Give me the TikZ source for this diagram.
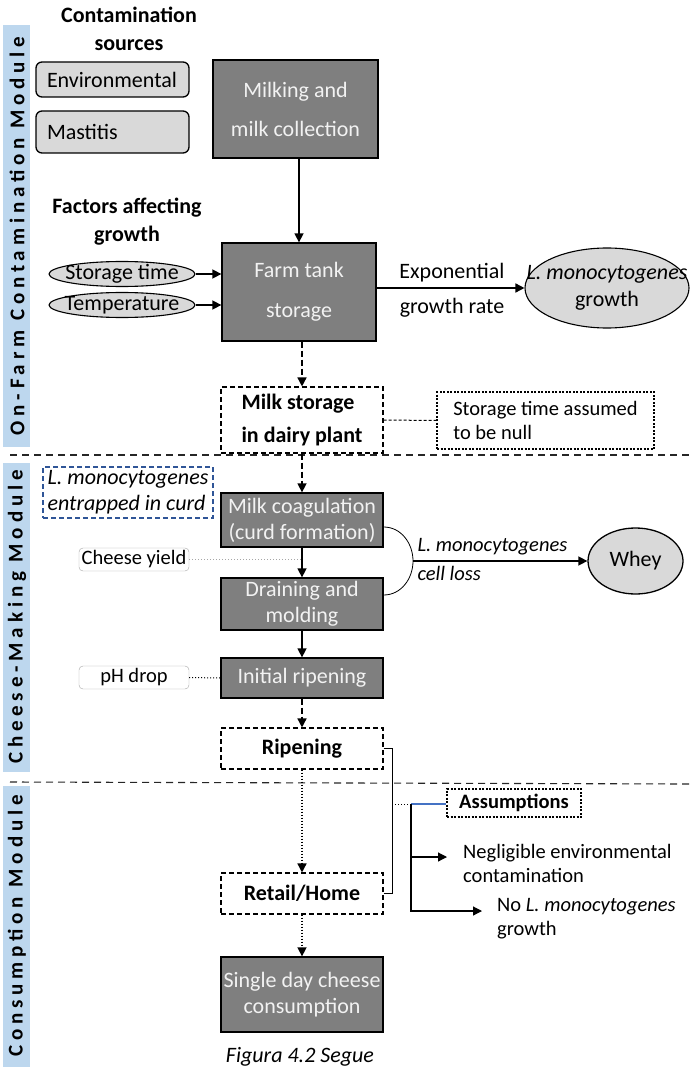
\documentclass[tikz,border=0pt]{standalone}
\usepackage{fontspec}
\setmainfont{Carlito}
\newfontfamily\modfont[LetterSpace=23]{Carlito}
\usetikzlibrary{arrows.meta,positioning,shapes.geometric}
\definecolor{stepgray}{HTML}{7F7F7F}
\definecolor{steptext}{HTML}{F2F2F2}
\definecolor{srcgray}{HTML}{D9D9D9}
\definecolor{modblue}{HTML}{BDD7EE}
\definecolor{curdblue}{HTML}{2F5597}
\definecolor{linkblue}{HTML}{4472C4}
\definecolor{tagline}{HTML}{A6A6A6}
\newcommand\bodyfont{\fontsize{22}{26}\selectfont}
\newcommand\notefont{\fontsize{20.5}{24}\selectfont}

\begin{document}
\begin{tikzpicture}[
 x=1pt,y=-1pt,>={Triangle[length=9pt,width=9pt]},font=\bodyfont,
 stepbox/.style={draw,line width=1.3pt,fill=stepgray,text=steptext,align=center,minimum width=162pt,inner sep=2pt},
 holdbox/.style={draw,line width=1.1pt,dash pattern=on 5pt off 3pt,fill=white,align=center,minimum width=162pt,font=\bodyfont\bfseries},
 srcbox/.style={draw,line width=1.3pt,fill=srcgray,rounded corners=6pt,minimum width=153pt,text width=131pt,align=flush left},
 factor/.style={ellipse,draw,line width=1.1pt,fill=srcgray,minimum width=146pt,minimum height=25pt,inner sep=0pt},
 tagbox/.style={draw=tagline,fill=white,rounded corners=4pt,minimum width=110pt,minimum height=23pt,inner sep=1pt,font=\notefont},
 notebox/.style={draw,line width=1.1pt,dash pattern=on 2pt off 1.5pt,align=left},
 head/.style={font=\fontsize{22}{26}\selectfont\bfseries,align=center},
 modlabel/.style={rotate=90,font=\modfont\bfseries\fontsize{21}{24}\selectfont},
 sepline/.style={line width=1.1pt,dash pattern=on 7pt off 5pt,draw=black!85},
 flow/.style={->,line width=1.5pt},
 lossline/.style={line width=0.8pt}
]
\useasboundingbox (0,0) rectangle (690,1067);

% module strips
\fill[modblue] (3,25) rectangle (30,447);
\fill[modblue] (3,463) rectangle (30,772);
\fill[modblue] (3,786) rectangle (30,1067);
\node[modlabel] (farmmod) at (17,236) {On-Farm Contamination Module};
\node[modlabel] (cheesemod) at (17,617) {Cheese-Making Module};
\node[modlabel] (consmod) at (17,926) {Consumption Module};
\draw[sepline] (10,455) -- (690,455);
\draw[sepline] (10,782) -- (690,784);

% on-farm
\node[head] (srchead) at (129,29) {Contamination\\[2pt]sources};
\node[srcbox,minimum height=35pt] (env) at (112.5,79.5) {Environmental};
\node[srcbox,minimum height=42pt] (mast) at (112.5,132) {Mastitis};
\node[stepbox,minimum width=165pt,minimum height=98pt] (milking) at (295.5,109) {Milking and\\[13pt]milk collection};
\node[head] (facthead) at (127,222) {Factors affecting\\[2pt]growth};
\node[stepbox,minimum width=154pt,minimum height=98pt] (tank) at (299,292) {Farm tank\\[14pt]storage};
\node[factor] (stime) at (122,274) {};
\node (stimetxt) at (stime) {Storage time};
\node[factor] (temp) at (122,305) {};
\node (temptxt) at (temp) {Temperature};
\node[factor,minimum width=164pt,minimum height=80pt] (growth) at (607,288) {};
\node[align=center] (growthtxt) at (growth) {\textit{L. monocytogenes}\\[1pt]growth};
\node[align=center] (rate) at (452,290) {Exponential\\[9pt]growth rate};
\node[holdbox,minimum height=66pt,align=left] (plant) at (302,420) {Milk storage\\[7pt]in dairy plant};
\node[notebox,font=\notefont,minimum width=217pt,minimum height=57pt] (nullnote) at (545.5,420.5) {Storage time assumed\\to be null};

\draw[flow] (tank.north |- milking.south) -- (tank.north);
\foreach \f in {stime,temp}
 \draw[flow] (\f.east) -- (\f.east -| tank.west);
\draw[flow] (tank.east |- growth.west) -- (growth.west);
\draw[flow,dash pattern=on 6pt off 3pt] (plant.north |- tank.south) -- (plant.north);
\draw[line width=1pt,dash pattern=on 3pt off 2pt] (plant.east) -- (nullnote.west);

% cheese making
\node[draw=curdblue,line width=1.3pt,dash pattern=on 5pt off 3pt,minimum width=170pt,minimum height=51pt,inner xsep=3pt,align=left] (trapped) at (128,492.5) {\textit{L. monocytogenes}\\\textit{entrapped in curd}};
\node[stepbox,minimum height=54pt] (coag) at (302,520) {Milk coagulation\\(curd formation)};
\node[stepbox,minimum height=52pt] (drain) at (302,604) {Draining and\\molding};
\node[stepbox,minimum height=40pt] (initrip) at (302,678) {Initial ripening};
\node[holdbox,minimum height=41pt] (ripen) at (302,748.5) {Ripening};
\node[tagbox] (yield) at (134,559.5) {Cheese yield};
\node[tagbox] (ph) at (134,677.5) {pH drop};
\node[ellipse,draw,line width=1.3pt,fill=srcgray,minimum width=95pt,minimum height=66pt] (whey) at (635.5,561) {Whey};
\coordinate (lossmid) at (413,561);
\node[anchor=west,font=\notefont] (lossa) at (414,547) {\textit{L. monocytogenes}};
\node[anchor=west,font=\notefont] (lossb) at (414,573) {\textit{cell loss}};

\draw[flow,dash pattern=on 6pt off 3pt] (plant.south) -- (coag.north);
\foreach \a/\b in {coag/drain,drain/initrip}
 \draw[flow] (\a.south) -- (\b.north);
\draw[flow,dash pattern=on 6pt off 3pt] (initrip.south) -- (ripen.north);
\draw[tagline,line width=1pt,dotted] (yield.east) -- (yield.east -| coag.south);
\draw[line width=1pt,dotted] (ph.east) -- (initrip.west);
\draw[lossline] ([yshift=-7pt]coag.east) to[out=0,in=90] (lossmid) to[out=-90,in=0] ([yshift=9pt]drain.east);
\draw[flow] (lossmid) -- (whey.west);

% consumption
\node[holdbox,minimum height=41pt] (retail) at (302,893.5) {Retail/Home};
\node[stepbox,minimum height=75pt] (single) at (302,994.5) {Single day cheese\\consumption};
\node[notebox,font=\notefont\bfseries,minimum width=134pt,minimum height=28pt,inner sep=2pt,align=center] (assume) at (514,803) {Assumptions};
\node[anchor=north west,align=left,inner sep=0pt,font=\notefont] (negl) at (463,844) {Negligible environmental\\contamination};
\node[anchor=north west,align=left,inner sep=0pt,font=\notefont] (nogrowth) at (497,898) {No \textit{L. monocytogenes}\\growth};
\node (caption) at (300,1057) {\textit{Figura 4.2 Segue}};
\coordinate (brk) at (392,804);
\coordinate (fork) at (411,804);

\foreach \a/\b in {ripen/retail,retail/single}
 \draw[flow,dash pattern=on 1.5pt off 1.5pt] (\a.south) -- (\b.north);
\draw[lossline] (ripen.east) -- ++(9,0) |- (retail.east);
\draw[line width=1pt,dotted] (brk) -- (fork);
\draw[linkblue,line width=1.2pt] (fork) -- (fork -| assume.west);
\draw[flow,line width=1.2pt] (fork) |- ([shift={(-16pt,-13pt)}]negl.north west);
\draw[flow,line width=1.2pt] (fork) |- ([shift={(-15pt,-13pt)}]nogrowth.north west);
\end{tikzpicture}
\end{document}
